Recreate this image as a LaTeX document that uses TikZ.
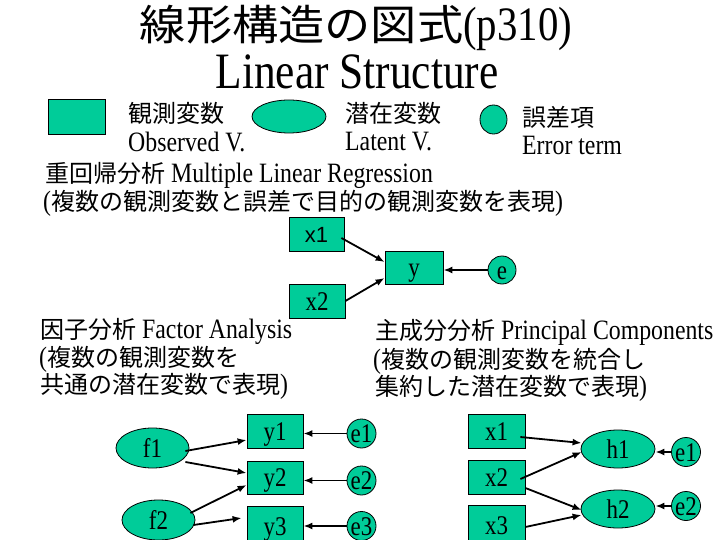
\documentclass[tikz,border=0pt]{standalone}
\usepackage{fontspec}
\setmainfont{Liberation Serif}[FakeStretch=0.85]
\newfontfamily\jp{Noto Sans CJK JP}
\newfontfamily\jpt{Noto Sans CJK JP}[FakeStretch=1.1]
\newfontfamily\sanslab{Liberation Sans}
\usetikzlibrary{arrows.meta,shapes.geometric}
\definecolor{tealgreen}{RGB}{0,204,153}
\newcommand\jtxt[1]{{\jp\fontsize{24}{24}\selectfont #1}}
\tikzset{
  obs/.style={rectangle, draw=black, line width=0.8pt, fill=tealgreen, inner sep=0pt,
    text height=18pt, text depth=0pt, font=\fontsize{27}{27}\selectfont},
  lat/.style={ellipse, draw=black, line width=0.8pt, fill=tealgreen, inner sep=0pt,
    text height=18pt, text depth=0pt, font=\fontsize{27}{27}\selectfont},
  err/.style={ellipse, draw=black, line width=0.8pt, fill=tealgreen, inner sep=0pt,
    minimum width=29pt, minimum height=29pt},
  lab/.style={inner sep=0pt, text height=18pt, text depth=0pt, font=\fontsize{27}{27}\selectfont},
  txt/.style={anchor=base west, inner sep=0pt, font=\fontsize{28}{28}\selectfont},
  arr/.style={-{Latex[length=9pt,width=7pt]}, line width=1.8pt}
}
\begin{document}
\begin{tikzpicture}[x=1pt,y=-1pt]
\useasboundingbox (0,0) rectangle (720,540);
% title
\node[txt, anchor=base] (t1) at (356,41) {{\jpt\fontsize{42}{42}\selectfont 線形構造の図式}{\fontsize{48}{48}\selectfont (p310)}};
\node[txt, anchor=base] (t2) at (357,89) {\fontsize{51}{51}\selectfont Linear Structure};
% legend
\node[obs, minimum width=57pt, minimum height=35pt] (lgobs) at (76.5,116.5) {};
\node[txt] (lg1a) at (128,123) {\jtxt{観測変数}};
\node[txt] (lg1b) at (128,152) {Observed V.};
\node[lat, minimum width=74pt, minimum height=33pt] (lglat) at (289,116.5) {};
\node[txt] (lg2a) at (345,123) {\jtxt{潜在変数}};
\node[txt] (lg2b) at (345,151) {Latent V.};
\node[err, minimum width=27pt, minimum height=29pt] (lgerr) at (493.5,119.5) {};
\node[txt] (lg3a) at (522,127) {\jtxt{誤差項}};
\node[txt] (lg3b) at (522,155) {Error term};
% multiple regression
\node[txt] (mr1) at (45,183) {\jtxt{重回帰分析} Multiple Linear Regression};
\node[txt] (mr2) at (43,211) {(\jtxt{複数の観測変数と誤差で目的の観測変数を表現})};
\node[obs, minimum width=55pt, minimum height=34pt, text height=16pt, font=\sanslab\fontsize{22}{22}\selectfont] (rx1) at (316.5,234) {x1};
\node[obs, minimum width=58pt, minimum height=33pt] (ry) at (414,267.5) {y};
\node[err, minimum width=28pt, minimum height=28pt, label={[lab]center:e}] (re) at (502,270) {};
\node[obs, minimum width=56pt, minimum height=34pt] (rx2) at (317,301) {x2};
\draw[arr] ([shift={(-3,4)}]rx1.east) -- ([shift={(0,-5.5)}]ry.west);
\draw[arr] (rx2.east) -- ([shift={(0,10.5)}]ry.west);
\draw[arr] (re.west) -- (re.west -| ry.east);
% factor analysis
\node[txt] (fa1) at (40,338) {\jtxt{因子分析} Factor Analysis};
\node[txt] (fa2) at (39,366) {(\jtxt{複数の観測変数を}};
\node[txt] (fa3) at (40,393) {\jtxt{共通の潜在変数で表現})};
\node[lat, minimum width=73pt, minimum height=40pt] (f1) at (152.5,448) {f1};
\node[lat, minimum width=73pt, minimum height=40pt] (f2) at (158.5,520) {f2};
\node[obs, minimum width=56pt, minimum height=34pt] (y1) at (275,431) {y1};
\node[obs, minimum width=56pt, minimum height=33pt] (y2) at (275,477.5) {y2};
\node[obs, minimum width=56pt, minimum height=40pt] (y3) at (275,526) {y3};
\node[err, label={[lab]center:e1}] (fe1) at (361.5,433.5) {};
\node[err, label={[lab]center:e2}] (fe2) at (361.5,480.5) {};
\node[err, label={[lab]center:e3}] (fe3) at (361.5,526) {};
\draw[arr] ([shift={(-4,3)}]f1.east) -- ([shift={(0,9)}]y1.west);
\draw[arr] ([shift={(-4,14)}]f1.east) -- ([shift={(0,-4.5)}]y2.west);
\draw[arr] ([shift={(-5,-7)}]f2.east) -- ([shift={(0,7.5)}]y2.west);
\draw[arr] ([shift={(-2,5)}]f2.east) -- ([shift={(-5,-8)}]y3.west);
\draw[arr] (fe1.west) -- (fe1.west -| y1.east);
\draw[arr] (fe2.west) -- (fe2.west -| y2.east);
\draw[arr] (fe3.west) -- (fe3.west -| y3.east);
% principal components
\node[txt] (pc1) at (375,339) {\jtxt{主成分分析} Principal Components};
\node[txt] (pc2) at (373,368) {(\jtxt{複数の観測変数を統合し}};
\node[txt] (pc3) at (375,395) {\jtxt{集約した潜在変数で表現})};
\node[obs, minimum width=57pt, minimum height=34pt] (px1) at (496.5,431) {x1};
\node[obs, minimum width=57pt, minimum height=34pt] (px2) at (496.5,477) {x2};
\node[obs, minimum width=57pt, minimum height=40pt] (px3) at (496.5,525) {x3};
\node[lat, minimum width=74pt, minimum height=38pt] (ph1) at (618,449) {h1};
\node[lat, minimum width=74pt, minimum height=38pt] (ph2) at (618,509) {h2};
\node[err, label={[lab]center:e1}] (pe1) at (686,452) {};
\node[err, label={[lab]center:e2}] (pe2) at (686,506) {};
\draw[arr] ([shift={(-5,6)}]px1.east) -- ([shift={(1,-6)}]ph1.west);
\draw[arr] ([shift={(-5,2)}]px2.east) -- ([shift={(1,3)}]ph1.west);
\draw[arr] ([shift={(0,11)}]px2.east) -- ([shift={(1,1)}]ph2.west);
\draw[arr] ([shift={(0,2)}]px3.east) -- ([shift={(1,6)}]ph2.west);
\draw[arr] (pe1.west) -- (pe1.west -| ph1.east);
\draw[arr] (pe2.west) -- (pe2.west -| ph2.east);
\end{tikzpicture}
\end{document}
